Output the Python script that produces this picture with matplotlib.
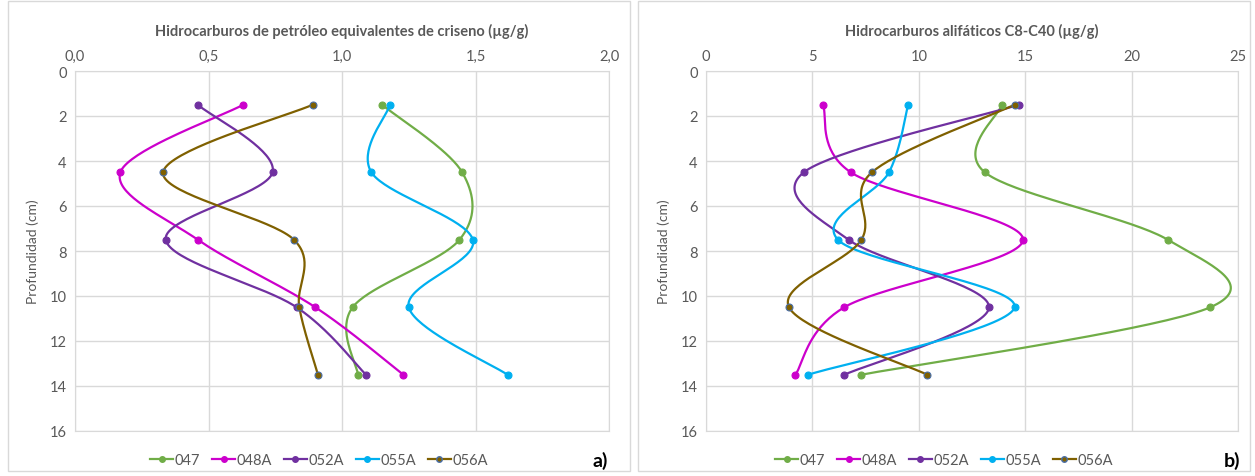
import numpy as np
import matplotlib
matplotlib.use("Agg")
from matplotlib import pyplot as plt
from matplotlib.patches import Rectangle
from matplotlib.lines import Line2D
from matplotlib.ticker import FuncFormatter

plt.rcParams['font.family'] = ['Lato', 'DejaVu Sans']

depth = [1.5, 4.5, 7.5, 10.5, 13.5]
names = ['047', '048A', '052A', '055A', '056A']

# panel a: hidrocarburos equivalentes de criseno (ug/g)
crys_047 = [1.15, 1.45, 1.44, 1.04, 1.06]
crys_048A = [0.63, 0.17, 0.46, 0.90, 1.23]
crys_052A = [0.46, 0.74, 0.34, 0.83, 1.09]
crys_055A = [1.18, 1.11, 1.49, 1.25, 1.62]
crys_056A = [0.89, 0.33, 0.82, 0.84, 0.91]

# panel b: alifaticos C8-C40 (ug/g)
ali_047 = [13.9, 13.1, 21.7, 23.7, 7.3]
ali_048A = [5.5, 6.8, 14.9, 6.5, 4.2]
ali_052A = [14.7, 4.6, 6.7, 13.3, 6.5]
ali_055A = [9.5, 8.6, 6.2, 14.5, 4.8]
ali_056A = [14.5, 7.8, 7.3, 3.9, 10.4]

colors = ['#70AD47', '#CC00CC', '#7030A0', '#00B0F0', '#7F6000']
edge = ['#70AD47', '#CC00CC', '#7030A0', '#00B0F0', '#4A6FA8']


def smooth(xs, ys, sx, sy, n=40):
    # Excel-like smoothed line (Bezier through points, tangent (P[i+1]-P[i-1])/6)
    p = np.column_stack([np.asarray(xs) * sx, np.asarray(ys) * sy])
    out = [p[0]]
    for i in range(len(p) - 1):
        p0 = p[i - 1] if i > 0 else p[i]
        p3 = p[i + 2] if i + 2 < len(p) else p[i + 1]
        c1 = p[i] + (p[i + 1] - p0) / 6
        c2 = p[i + 1] - (p3 - p[i]) / 6
        t = np.linspace(0, 1, n)[1:, None]
        seg = ((1 - t) ** 3 * p[i] + 3 * (1 - t) ** 2 * t * c1
               + 3 * (1 - t) * t ** 2 * c2 + t ** 3 * p[i + 1])
        out.extend(seg)
    out = np.array(out)
    return out[:, 0] / sx, out[:, 1] / sy


fig = plt.figure(figsize=(12.55, 4.77), dpi=100)

frames = [(8, 630), (638, 1250)]
for x0, x1 in frames:
    fig.patches.append(Rectangle((x0 / 1255, 5 / 477), (x1 - x0) / 1255, 470 / 477,
                                 transform=fig.transFigure, fill=False,
                                 edgecolor='#D9D9D9', lw=1))

ax_a = fig.add_axes([75 / 1255, 45 / 477, 534 / 1255, 360 / 477])
ax_b = fig.add_axes([706 / 1255, 45 / 477, 532 / 1255, 360 / 477])

panels = [
    (ax_a, [crys_047, crys_048A, crys_052A, crys_055A, crys_056A], 2.0, 0.5,
     'Hidrocarburos de petróleo equivalentes de criseno (µg/g)', 'a)', 600,
     lambda v, p: f'{v:.1f}'.replace('.', ',')),
    (ax_b, [ali_047, ali_048A, ali_052A, ali_055A, ali_056A], 25, 5,
     'Hidrocarburos alifáticos C8-C40 (µg/g)', 'b)', 1232,
     lambda v, p: f'{v:.0f}'),
]

for (ax, series, xmax, xstep, title, tag, tagx, fmt), (f0, f1) in zip(panels, frames):
    sx = 534 / xmax
    sy = 22.5
    for vals, c, ec in zip(series, colors, edge):
        lx, ly = smooth(vals, depth, sx, sy)
        ax.plot(lx, ly, color=c, lw=1.6, zorder=3)
        ax.plot(vals, depth, 'o', ms=5, color=c, mec=ec, mew=0.8, zorder=4)
    ax.set_xlim(0, xmax)
    ax.set_ylim(16, 0)
    ax.set_xticks(np.arange(0, xmax + xstep / 2, xstep))
    ax.set_yticks(range(0, 17, 2))
    ax.xaxis.set_major_formatter(FuncFormatter(fmt))
    ax.xaxis.tick_top()
    ax.tick_params(length=0, labelsize=10.5, colors='#595959', pad=6)
    ax.grid(True, color='#D9D9D9', lw=1)
    ax.set_axisbelow(True)
    for s in ax.spines.values():
        s.set_color('#D9D9D9')
    ax.set_title(title, fontsize=10.5, fontweight='bold', color='#595959', pad=26)
    ax.set_ylabel('Profundidad (cm)', fontsize=10, color='#595959', labelpad=8)

    handles = [Line2D([0], [0], color=c, lw=1.6, marker='o', ms=4, mec=ec, label=n)
               for n, c, ec in zip(names, colors, edge)]
    fig.legend(handles=handles, loc='center',
               bbox_to_anchor=((f0 + f1) / 2 / 1255, 16 / 477), ncol=5,
               frameon=False, fontsize=10.5, handlelength=1.6, columnspacing=0.8,
               handletextpad=0.1, labelcolor='#595959')
    fig.text(tagx / 1255, 16 / 477, tag, fontsize=14, fontweight='bold',
             ha='center', va='center')

fig.savefig('out.png', dpi=100)
